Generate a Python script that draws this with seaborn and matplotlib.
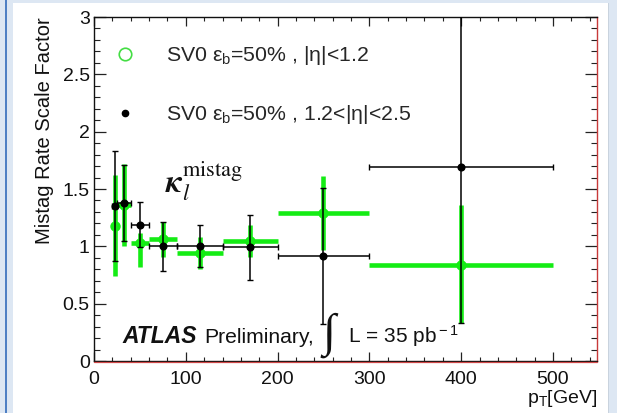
import numpy as np
import pandas as pd
import seaborn as sns
import matplotlib
matplotlib.use("Agg")
import matplotlib.pyplot as plt
from matplotlib.lines import Line2D
from matplotlib.patches import Rectangle
from matplotlib.ticker import MultipleLocator, FixedLocator
from matplotlib.transforms import offset_copy

# pT bins (GeV): centres and half-widths
pt_center = [22.5, 32.5, 50, 75, 115, 170, 250, 400]
pt_halfwidth = [2.5, 7.5, 10, 15, 25, 30, 50, 100]

# mistag scale factor, |eta| < 1.2
sf_central = [1.18, 1.36, 1.03, 1.06, 0.945, 1.046, 1.29, 0.84]
sf_central_err_lo = [0.44, 0.36, 0.21, 0.15, 0.14, 0.14, 0.32, 0.51]
sf_central_err_hi = [0.44, 0.36, 0.09, 0.15, 0.14, 0.14, 0.32, 0.52]

# mistag scale factor, 1.2 < |eta| < 2.5
sf_forward = [1.35, 1.38, 1.19, 1.0, 1.005, 0.99, 0.915, 1.69]
sf_forward_err = [0.48, 0.33, 0.195, 0.215, 0.185, 0.28, 0.59, 1.36]

x_ticks = [0, 100, 200, 300, 400, 500]
y_ticks = [0, 0.5, 1, 1.5, 2, 2.5, 3]
y_tick_labels = ["0", "0.5", "1", "1.5", "2", "2.5", "3"]

label_central = r"SV0 ε$_{\rm b}$=50% , |η|<1.2"
label_forward = r"SV0 ε$_{\rm b}$=50% , 1.2<|η|<2.5"

sns.set_theme(style="ticks")
plt.rcParams["font.family"] = ["Liberation Sans", "DejaVu Sans"]
plt.rcParams["mathtext.fontset"] = "custom"
plt.rcParams["mathtext.rm"] = "Liberation Sans"
plt.rcParams["mathtext.it"] = "Liberation Sans:italic"
plt.rcParams["mathtext.bf"] = "Liberation Sans:bold"

GREEN = "#14ec14"

df_c = pd.DataFrame({"pt": pt_center, "sf": sf_central})
df_f = pd.DataFrame({"pt": pt_center, "sf": sf_forward})

fig = plt.figure(figsize=(6.17, 4.13), dpi=100, facecolor="white")
ax = fig.add_axes([94 / 617, 1 - 361 / 413, 503 / 617, 344 / 413])
ax.set_facecolor("white")

# |eta| < 1.2 : thick green bars
ax.errorbar(pt_center, sf_central, xerr=pt_halfwidth,
            yerr=[sf_central_err_lo, sf_central_err_hi],
            fmt="none", ecolor=GREEN, elinewidth=3.3, capsize=0, zorder=2)
sns.scatterplot(data=df_c, x="pt", y="sf", ax=ax, marker="o", s=42,
                facecolor=GREEN, edgecolor=GREEN, linewidth=1, zorder=3,
                legend=False)

# 1.2 < |eta| < 2.5 : thin black bars with caps
ax.errorbar(pt_center, sf_forward, xerr=pt_halfwidth, yerr=sf_forward_err,
            fmt="none", ecolor="black", elinewidth=1.1, capsize=2.2,
            capthick=1.0, zorder=4)
sns.scatterplot(data=df_f, x="pt", y="sf", ax=ax, marker="o", s=34,
                color="black", edgecolor="black", linewidth=0, zorder=5,
                legend=False)

ax.set_xlim(0, 548)
ax.set_ylim(0, 3)

ax.xaxis.set_major_locator(FixedLocator(x_ticks))
ax.xaxis.set_minor_locator(MultipleLocator(20))
ax.yaxis.set_major_locator(FixedLocator(y_ticks))
ax.set_yticklabels(y_tick_labels)
ax.yaxis.set_minor_locator(MultipleLocator(0.1))

ax.tick_params(which="both", direction="in", top=True, right=True,
               colors="#222222", labelcolor="#111111")
ax.xaxis.set_tick_params(which="major", length=6.5, width=0.9, pad=7, labelsize=14)
ax.xaxis.set_tick_params(which="minor", length=3.2, width=0.8)
ax.yaxis.set_tick_params(which="major", length=8.6, width=0.9, pad=3, labelsize=14)
ax.yaxis.set_tick_params(which="minor", length=4.3, width=0.8)

for side in ["left", "top", "bottom"]:
    ax.spines[side].set_color("#111111")
    ax.spines[side].set_linewidth(1.0)
ax.spines["right"].set_color("#c83a3a")
ax.spines["right"].set_linewidth(1.0)

# thin red rule just beneath the lower frame
red_tr = offset_copy(ax.transAxes, fig=fig, x=0, y=-1.3, units="dots")
ax.add_line(Line2D([0, 1], [0, 0], transform=red_tr, color="#d04848",
                   lw=0.9, clip_on=False, zorder=6))

ax.set_ylabel("Mistag Rate Scale Factor", fontsize=14.5, loc="top", labelpad=6,
              color="#111111")
ax.set_xlabel(r"p$_{\rm T}$[GeV]", fontsize=14, loc="right", labelpad=0,
              color="#111111")

# legend with marker-only entries
handles = [
    Line2D([], [], ls="none", marker="o", mfc="none", mec="#44dd44",
           ms=9, mew=1.2),
    Line2D([], [], ls="none", marker="o", color="black", ms=4.5),
]
ax.legend(handles, [label_central, label_forward], loc="upper left",
          bbox_to_anchor=(103.5 / 617, 1 - 44 / 413),
          bbox_transform=fig.transFigure, frameon=False, fontsize=15.3,
          labelspacing=1.7, handletextpad=0.95, borderpad=0,
          borderaxespad=0, handlelength=2.0)

# kappa_l^mistag symbol
ax.text(0.141, 0.49, r"$\boldsymbol{\kappa}_{l}^{\mathrm{mistag}}$",
        transform=ax.transAxes, fontsize=23, math_fontfamily="stix",
        ha="left", va="baseline", color="#111111")

# ATLAS label and luminosity
base_y = 0.053
ax.text((122 - 94) / 503, base_y, "ATLAS", transform=ax.transAxes,
        fontsize=16.5, fontweight="bold", fontstyle="italic",
        ha="left", va="baseline", color="#111111")
ax.text((204 - 94) / 503, base_y, "Preliminary,", transform=ax.transAxes,
        fontsize=15.2, ha="left", va="baseline", color="#111111")
ax.text((322 - 94) / 503, 0.045, "∫", transform=ax.transAxes,
        fontsize=34, family=["Liberation Serif", "DejaVu Serif"],
        fontstyle="italic", ha="left", va="baseline", color="#111111")
ax.text((348 - 94) / 503, base_y, r"L = 35 pb$^{\rm -1}$",
        transform=ax.transAxes, fontsize=15, ha="left", va="baseline",
        color="#111111")

# page surround
LIGHT = "#dde7f3"
fig.patches.extend([
    Rectangle((0, 0), 13.3 / 617, 1, transform=fig.transFigure,
              facecolor=LIGHT, edgecolor="none", zorder=-10),
    Rectangle((4.7 / 617, 0), 2.0 / 617, 1, transform=fig.transFigure,
              facecolor="#4f80c4", edgecolor="none", zorder=-9),
    Rectangle((0, 1 - 3.3 / 413), 1, 3.3 / 413, transform=fig.transFigure,
              facecolor=LIGHT, edgecolor="none", zorder=-10),
    Rectangle((609 / 617, 0), 8 / 617, 1, transform=fig.transFigure,
              facecolor=LIGHT, edgecolor="none", zorder=-10),
    Rectangle((607.5 / 617, 0), 1.5 / 617, 1 - 3.3 / 413, transform=fig.transFigure,
              facecolor="#c9d3de", edgecolor="none", zorder=-10),
])

fig.savefig("out.png", dpi=100, facecolor="white")
